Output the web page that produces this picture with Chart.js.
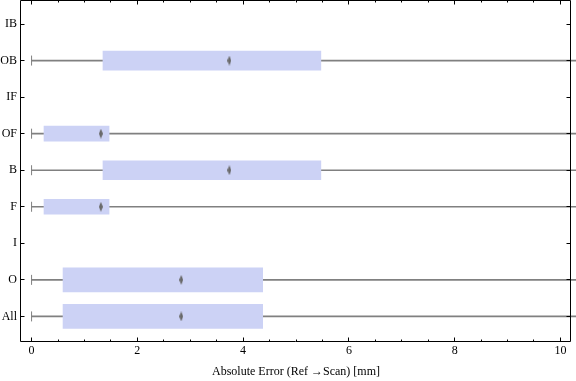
<!DOCTYPE html>
<html><head><meta charset="utf-8">
<script src="https://cdn.jsdelivr.net/npm/chart.js@4.4.1/dist/chart.umd.min.js"></script>
<style>html,body{margin:0;padding:0;background:#fff;}#wrap{width:576px;height:381px;position:relative;}</style>
</head><body><div id="wrap"><canvas id="c"></canvas></div>
<script>
// ---- data ----
const categories = ['IB','OB','IF','OF','B','F','I','O','All'];
const whiskerLow  = [null, 0,    null, 0,     0,    0,     null, 0,     0];
const whiskerHigh = [null, 10.8, null, 10.8,  10.8, 10.8,  null, 10.8,  10.8];
const q1          = [null, 1.35, null, 0.235, 1.35, 0.235, null, 0.595, 0.595];
const q3          = [null, 5.47, null, 1.465, 5.47, 1.465, null, 4.37,  4.37];
const medians     = [null, 3.74, null, 1.31,  3.74, 1.31,  null, 2.83,  2.83];
const xTickLabels = [0, 2, 4, 6, 8, 10];
const xAxisTitle = 'Absolute Error (Ref \u2192Scan) [mm]';

// ---- styles ----
const boxThickness = {OB:19, OF:15, B:19, F:15, O:24, All:24};
const boxColor = 'rgb(204,210,245)';
const lineGray = 'rgb(128,128,128)';
const serif = "'Liberation Serif', 'DejaVu Serif', serif";

const diamond = document.createElement('canvas');
diamond.width = 4; diamond.height = 10;
(function(){ const g = diamond.getContext('2d'); g.fillStyle = 'rgb(105,105,105)';
  g.beginPath(); g.moveTo(2,0); g.lineTo(4,5); g.lineTo(2,10); g.lineTo(0,5); g.closePath(); g.fill(); })();

const idx = categories.map((c,i)=>i);
const datasets = [];
datasets.push({
  type:'bar', label:'whisker', grouped:false, barThickness:1, clip:false,
  backgroundColor: lineGray, borderWidth:0,
  data: idx.filter(i=>whiskerLow[i]!==null).map(i=>({y:i, x:[whiskerLow[i], whiskerHigh[i]]})),
  order: 3
});
datasets.push({
  type:'scatter', label:'cap', pointStyle:'line', rotation:90, radius:5, borderWidth:1,
  borderColor: lineGray, backgroundColor: lineGray, pointHoverRadius:5,
  data: idx.filter(i=>whiskerLow[i]!==null).map(i=>({y:i, x:whiskerLow[i]})),
  order: 2
});
idx.filter(i=>q1[i]!==null).forEach(i=>{
  datasets.push({
    type:'bar', label:'box '+categories[i], grouped:false, barThickness: boxThickness[categories[i]],
    backgroundColor: boxColor, borderWidth:0,
    data:[{y:i, x:[q1[i], q3[i]]}], order: 1
  });
});
datasets.push({
  type:'scatter', label:'median', pointStyle: diamond, radius:5,
  data: idx.filter(i=>medians[i]!==null).map(i=>({y:i, x:medians[i]})),
  order: 0
});

const framePlugin = {
  id:'frame',
  afterDatasetsDraw(chart){
    const {ctx, chartArea:{left,right,top,bottom}, scales:{x,y}} = chart;
    ctx.save();
    ctx.strokeStyle = '#000'; ctx.lineWidth = 1;
    const L = left-0.5, R = right-0.5, T = top-0.5, B = bottom-0.5;
    ctx.beginPath();
    ctx.moveTo(L,T); ctx.lineTo(R,T); ctx.lineTo(R,B); ctx.lineTo(L,B); ctx.closePath();
    for (let k=0; k<=20; k++){
      const v = k*0.5;
      const px = Math.floor(x.getPixelForValue(v))+0.5;
      const len = xTickLabels.includes(v) ? 4 : 2;
      ctx.moveTo(px,B); ctx.lineTo(px,B-len);
      ctx.moveTo(px,T); ctx.lineTo(px,T+len);
    }
    categories.forEach((c,i)=>{
      const py = Math.floor(y.getPixelForValue(i))+0.5;
      ctx.moveTo(L,py); ctx.lineTo(L+4,py);
      ctx.moveTo(R,py); ctx.lineTo(R-4,py);
    });
    ctx.stroke();
    ctx.restore();
  }
};

function zeroPad(s){
  s.paddingLeft = 0; s.paddingRight = 0; s.paddingTop = 0; s.paddingBottom = 0;
}

new Chart(document.getElementById('c'), {
  type:'bar',
  data:{ datasets },
  options:{
    indexAxis:'y',
    responsive:true, maintainAspectRatio:false, animation:false,
    devicePixelRatio:1,
    layout:{ autoPadding:false, padding:{left:0, right:5, top:1, bottom:0} },
    plugins:{ legend:{display:false}, tooltip:{enabled:false} },
    scales:{
      x:{
        type:'linear', position:'bottom', min:-0.2, max:10.2, offset:false,
        afterBuildTicks: s => { s.ticks = xTickLabels.map(v=>({value:v})); },
        afterFit: s => { s.height = 39; zeroPad(s); },
        grid:{display:false, drawTicks:false}, border:{display:false},
        ticks:{ color:'#000', font:{family:serif, size:12}, padding:2, maxRotation:0, autoSkip:false },
        title:{ display:true, text:xAxisTitle, color:'#000', font:{family:serif, size:12}, padding:{top:0, bottom:2} }
      },
      y:{
        type:'linear', position:'left', reverse:true, min:-0.63, max:8.70, offset:false,
        afterBuildTicks: s => { s.ticks = categories.map((c,i)=>({value:i})); },
        afterFit: s => { s.width = 21; zeroPad(s); },
        grid:{display:false, drawTicks:false, offset:false}, border:{display:false},
        ticks:{ color:'#000', font:{family:serif, size:12}, padding:4, autoSkip:false,
                callback: v => categories[v] }
      }
    }
  },
  plugins:[framePlugin]
});
</script></body></html>
